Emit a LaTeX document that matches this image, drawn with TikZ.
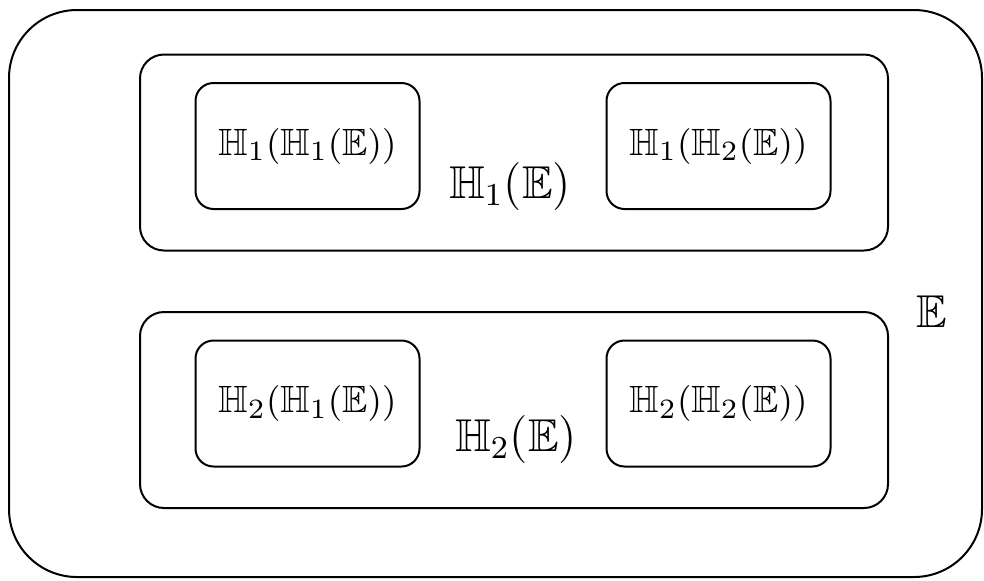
\documentclass[tikz,border=0pt]{standalone}
\usepackage{amssymb}
\begin{document}
\begin{tikzpicture}[x=0.25pt,y=-0.25pt,
  outerbox/.style={draw,line width=0.5pt,rounded corners=17pt,inner sep=0pt},
  midbox/.style={draw,line width=0.5pt,rounded corners=6pt,inner sep=0pt,minimum width=187pt,minimum height=49pt},
  innerbox/.style={draw,line width=0.5pt,rounded corners=4.5pt,inner sep=0pt,minimum width=56pt,minimum height=31.5pt,font=\fontsize{9.5}{11}\selectfont},
  lbl/.style={inner sep=0pt,font=\fontsize{11.5}{13}\selectfont}]
\useasboundingbox (0,0) rectangle (984,580);
\node[outerbox,minimum width=243.25pt,minimum height=141.75pt] (E) at (495.5,293.5) {};
\node[midbox] (H1) at (514,152.5) {};
\node[midbox] (H2) at (514,410) {};
\node[innerbox] (a) at (307.5,146) {\raisebox{-1pt}{$\mathbb{H}_1(\mathbb{H}_1(\mathbb{E}))$}\hspace{6pt}};
\node[innerbox] (b) at (718.5,146) {\raisebox{-1pt}{$\mathbb{H}_1(\mathbb{H}_2(\mathbb{E}))$}\hspace{4pt}};
\node[innerbox] (c) at (307.5,403.5) {\raisebox{-1.5pt}{$\mathbb{H}_2(\mathbb{H}_1(\mathbb{E}))$}\hspace{2pt}};
\node[innerbox] (d) at (718.5,403.5) {\raisebox{-1.5pt}{$\mathbb{H}_2(\mathbb{H}_2(\mathbb{E}))$}};
\node[lbl] (l1) at (510,186) {$\mathbb{H}_1(\mathbb{E})$};
\node[lbl] (l2) at (516,439) {$\mathbb{H}_2(\mathbb{E})$};
\node[lbl] (lE) at (932,312) {$\mathbb{E}$};
\end{tikzpicture}
\end{document}
